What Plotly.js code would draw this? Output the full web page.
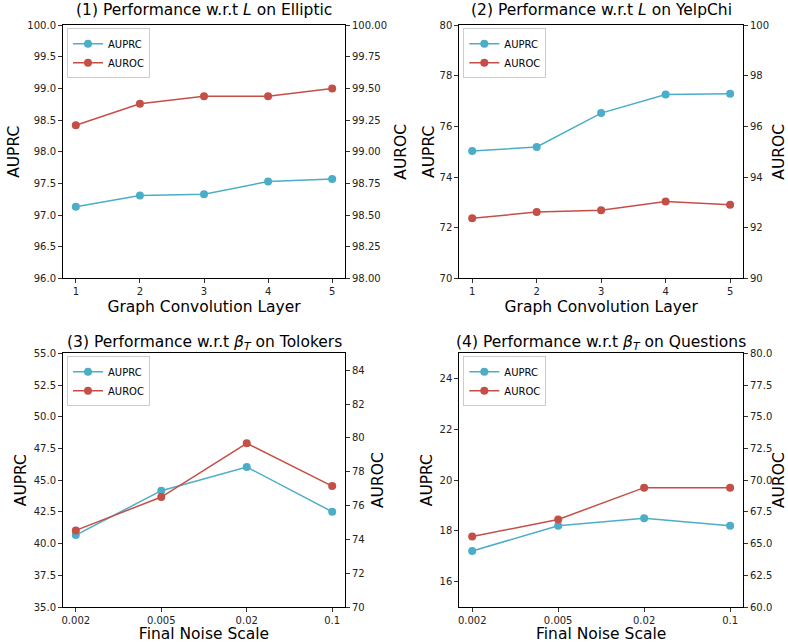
<!DOCTYPE html>
<html><head><meta charset="utf-8">
<script src="https://cdn.plot.ly/plotly-3.0.1.min.js"></script>
<style>html,body{margin:0;padding:0;background:#fff}#chart{width:788px;height:643px}</style>
</head><body><div id="chart"></div>
<script>
// ---- data ----
const layers = [1, 2, 3, 4, 5];
const noiseScales = ['0.002', '0.005', '0.02', '0.1'];
const ellipticAUPRC = [97.13, 97.31, 97.33, 97.53, 97.57];
const ellipticAUROC = [99.21, 99.38, 99.44, 99.44, 99.50];
const yelpAUPRC = [75.03, 75.19, 76.53, 77.26, 77.29];
const yelpAUROC = [92.37, 92.62, 92.69, 93.04, 92.91];
const tolokersAUPRC = [40.67, 44.17, 46.04, 42.51];
const tolokersAUROC = [74.53, 76.50, 79.68, 77.15];
const questionsAUPRC = [17.21, 18.20, 18.50, 18.20];
const questionsAUROC = [65.56, 66.90, 69.41, 69.41];
const panelTitles = [
  '(1) Performance w.r.t <i>L</i> on Elliptic',
  '(2) Performance w.r.t <i>L</i> on YelpChi',
  '(3) Performance w.r.t <i>β</i><sub><i>T</i></sub> on Tolokers',
  '(4) Performance w.r.t <i>β</i><sub><i>T</i></sub> on Questions'
];
const xTitles = ['Graph Convolution Layer', 'Graph Convolution Layer', 'Final Noise Scale', 'Final Noise Scale'];

// ---- style ----
const W = 788, H = 643;
const FONT = 'DejaVu Sans';
const cAUPRC = '#4badc7';
const cAUROC = '#c44f46';
const px = v => v / W, py = v => 1 - v / H;

const dom = {
  x: [[63, 345], [459.3, 743], [63, 345], [459.3, 743]],
  y: [[25.3, 278.3], [25.3, 278.3], [353.3, 607], [353.3, 607]]
};
const titleBottom = [21, 21, 355, 355];
const leftStandoff = [3, 1, 3, 3];
const rightStandoff = [9, 9, 8, 15];

const xs = [layers, layers, noiseScales, noiseScales];
const prc = [ellipticAUPRC, yelpAUPRC, tolokersAUPRC, questionsAUPRC];
const roc = [ellipticAUROC, yelpAUROC, tolokersAUROC, questionsAUROC];
const leftRange = [[96, 100], [70, 80], [35, 55], [15, 25]];
const leftTicks = [
  {vals: [96, 96.5, 97, 97.5, 98, 98.5, 99, 99.5, 100], fmt: '.1f'},
  {vals: [70, 72, 74, 76, 78, 80], fmt: 'd'},
  {vals: [35, 37.5, 40, 42.5, 45, 47.5, 50, 52.5, 55], fmt: '.1f'},
  {vals: [16, 18, 20, 22, 24], fmt: 'd'}
];
const rightRange = [[98, 100], [90, 100], [70, 85], [60, 80]];
const rightTicks = [
  {vals: [98, 98.25, 98.5, 98.75, 99, 99.25, 99.5, 99.75, 100], fmt: '.2f'},
  {vals: [90, 92, 94, 96, 98, 100], fmt: 'd'},
  {vals: [70, 72, 74, 76, 78, 80, 82, 84], fmt: 'd'},
  {vals: [60, 62.5, 65, 67.5, 70, 72.5, 75, 77.5, 80], fmt: '.1f'}
];

const traces = [];
const layout = {
  width: W, height: H,
  margin: {l: 0, r: 0, t: 0, b: 0},
  paper_bgcolor: '#fff', plot_bgcolor: '#fff',
  font: {family: FONT, size: 10, color: '#000'},
  annotations: []
};

const tickFont = {family: FONT, size: 10, color: '#222'};
const titleFont = {family: FONT, size: 15.5, color: '#000'};

for (let i = 0; i < 4; i++) {
  const xn = i === 0 ? '' : String(i + 1);
  const yl = String(2 * i + 1), yr = String(2 * i + 2);
  const ylName = yl === '1' ? '' : yl;
  const legName = i === 0 ? 'legend' : 'legend' + (i + 1);
  const cat = i >= 2;

  traces.push({
    x: xs[i], y: prc[i], name: 'AUPRC', type: 'scatter', mode: 'lines+markers',
    xaxis: 'x' + xn, yaxis: 'y' + ylName, legend: legName,
    line: {color: cAUPRC, width: 1.5}, marker: {color: cAUPRC, size: 8}
  });
  traces.push({
    x: xs[i], y: roc[i], name: 'AUROC', type: 'scatter', mode: 'lines+markers',
    xaxis: 'x' + xn, yaxis: 'y' + yr, legend: legName,
    line: {color: cAUROC, width: 1.5}, marker: {color: cAUROC, size: 8}
  });

  layout['xaxis' + xn] = {
    domain: [px(dom.x[i][0]), px(dom.x[i][1])],
    anchor: 'y' + ylName,
    type: cat ? 'category' : 'linear',
    range: cat ? [-0.15, 3.15] : [0.8, 5.2],
    tickvals: cat ? undefined : layers,
    showgrid: false, zeroline: false,
    showline: true, mirror: true, linecolor: '#000', linewidth: 1,
    ticks: 'outside', ticklen: 4, tickwidth: 0.8, tickcolor: '#000',
    tickfont: tickFont,
    title: {text: xTitles[i], font: titleFont, standoff: 4}
  };
  layout['yaxis' + ylName] = {
    domain: [py(dom.y[i][1]), py(dom.y[i][0])],
    anchor: 'x' + xn,
    range: leftRange[i], tickvals: leftTicks[i].vals, tickformat: leftTicks[i].fmt,
    showgrid: false, zeroline: false,
    showline: true, linecolor: '#000', linewidth: 1,
    ticks: 'outside', ticklen: 4, tickwidth: 0.8, tickcolor: '#000',
    tickfont: tickFont,
    title: {text: 'AUPRC', font: titleFont, standoff: leftStandoff[i]}
  };
  layout['yaxis' + yr] = {
    overlaying: 'y' + ylName, side: 'right', anchor: 'x' + xn,
    range: rightRange[i], tickvals: rightTicks[i].vals, tickformat: rightTicks[i].fmt,
    showgrid: false, zeroline: false,
    showline: true, linecolor: '#000', linewidth: 1,
    ticks: 'outside', ticklen: 4, tickwidth: 0.8, tickcolor: '#000',
    tickfont: tickFont,
    title: {text: 'AUROC', font: titleFont, standoff: rightStandoff[i]}
  };
  layout[legName] = {
    x: px(dom.x[i][0] + 4), y: py(dom.y[i][0] + 3), xanchor: 'left', yanchor: 'top',
    bgcolor: '#fff', bordercolor: '#ccc', borderwidth: 1,
    font: {family: FONT, size: 10, color: '#000'},
    tracegroupgap: 0, itemwidth: 30
  };
  layout.annotations.push({
    xref: 'paper', yref: 'paper',
    x: px((dom.x[i][0] + dom.x[i][1]) / 2), y: py(titleBottom[i]),
    xanchor: 'center', yanchor: 'bottom', showarrow: false,
    text: panelTitles[i], font: titleFont
  });
}

Plotly.newPlot('chart', traces, layout, {displayModeBar: false, staticPlot: true});
</script>
</body></html>
